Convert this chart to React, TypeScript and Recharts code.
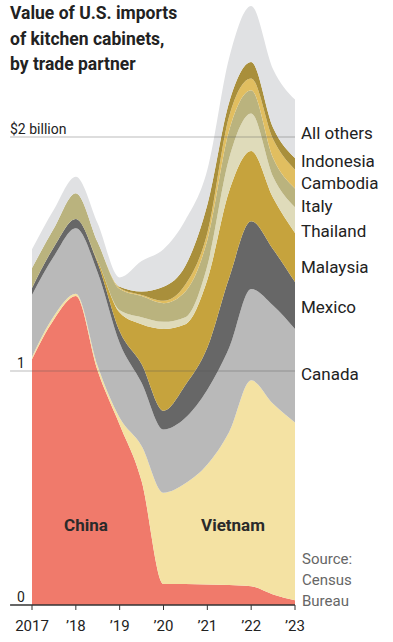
import { AreaChart, Area, XAxis, YAxis, ReferenceLine } from "recharts";

// half-year points, values in $ billions
const periods = [2017, 2017.5, 2018, 2018.5, 2019, 2019.5, 2020, 2020.5, 2021, 2021.5, 2022, 2022.5, 2023];
const china = [1.05, 1.22, 1.32, 1.0, 0.77, 0.53, 0.09, 0.09, 0.088, 0.085, 0.08, 0.045, 0.02];
const vietnam = [0.01, 0.015, 0.01, 0.02, 0.03, 0.15, 0.39, 0.43, 0.512, 0.655, 0.88, 0.815, 0.76];
const canada = [0.265, 0.255, 0.28, 0.4, 0.32, 0.27, 0.27, 0.28, 0.32, 0.36, 0.39, 0.42, 0.4];
const mexico = [0.03, 0.04, 0.04, 0.04, 0.05, 0.08, 0.08, 0.14, 0.18, 0.3, 0.29, 0.24, 0.2];
const malaysia = [0, 0, 0, 0.01, 0.08, 0.17, 0.35, 0.26, 0.29, 0.37, 0.3, 0.22, 0.21];
const thailand = [0, 0, 0, 0, 0.01, 0.03, 0.03, 0.03, 0.06, 0.14, 0.16, 0.09, 0.11];
const italy = [0.085, 0.08, 0.11, 0.08, 0.09, 0.09, 0.08, 0.11, 0.11, 0.12, 0.1, 0.08, 0.08];
const cambodia = [0, 0, 0, 0, 0.005, 0.005, 0.01, 0.03, 0.03, 0.06, 0.05, 0.08, 0.08];
const indonesia = [0, 0, 0, 0, 0.005, 0.015, 0.06, 0.08, 0.12, 0.06, 0.07, 0.05, 0.05];
const allOthers = [0.08, 0.08, 0.07, 0.08, 0.04, 0.13, 0.16, 0.195, 0.15, 0.19, 0.24, 0.25, 0.25];

const yearTicks = [2017, 2018, 2019, 2020, 2021, 2022, 2023];
const valueTicks = [0, 1, 2];

const series = [
  { key: "china", name: "China", values: china, color: "#f07a6b" },
  { key: "vietnam", name: "Vietnam", values: vietnam, color: "#f4e2a3" },
  { key: "canada", name: "Canada", values: canada, color: "#b9b9b9" },
  { key: "mexico", name: "Mexico", values: mexico, color: "#676767" },
  { key: "malaysia", name: "Malaysia", values: malaysia, color: "#c6a33d" },
  { key: "thailand", name: "Thailand", values: thailand, color: "#dfdbba" },
  { key: "italy", name: "Italy", values: italy, color: "#bab37e" },
  { key: "cambodia", name: "Cambodia", values: cambodia, color: "#e1be60" },
  { key: "indonesia", name: "Indonesia", values: indonesia, color: "#a98f3b" },
  { key: "allOthers", name: "All others", values: allOthers, color: "#e0e1e3" },
];

const data = periods.map((t, i) => {
  const row: Record<string, number> = { t };
  series.forEach((s) => (row[s.key] = s.values[i]));
  return row;
});

// label placement on the right (pixel y of text centre)
const rightLabels = [
  { text: "All others", y: 133 },
  { text: "Indonesia", y: 161 },
  { text: "Cambodia", y: 183 },
  { text: "Italy", y: 206 },
  { text: "Thailand", y: 231 },
  { text: "Malaysia", y: 267 },
  { text: "Mexico", y: 307 },
  { text: "Canada", y: 374 },
];

const font = "Roboto, 'Liberation Sans', sans-serif";

const yearLabel = (v: number) => (v === 2017 ? "2017" : "\u2019" + String(v).slice(2));

const ValueTick = (props: any) => {
  const { y, payload } = props;
  const v = payload.value;
  return (
    <text x={v === 2 ? 10 : 17} y={y - 3} fontSize={14} fill="#222" fontFamily={font}>
      {v === 2 ? "$2 billion" : v}
    </text>
  );
};

export default function App() {
  return (
    <div style={{ position: "fixed", left: 0, top: 0, width: 393, height: 642, background: "#fff", fontFamily: font }}>
      <AreaChart
        width={393}
        height={642}
        data={data}
        margin={{ top: 1.28, right: 98, bottom: 7, left: 10 }}
      >
        <XAxis
          dataKey="t"
          type="number"
          domain={[2017, 2023]}
          ticks={yearTicks}
          interval={0}
          tickFormatter={yearLabel}
          axisLine={false}
          tickLine={{ stroke: "#333" }}
          tickSize={5}
          tickMargin={10}
          height={30}
          tick={{ fontSize: 15, fill: "#222", fontFamily: font }}
        />
        <YAxis
          type="number"
          domain={[0, 2.58]}
          allowDataOverflow
          ticks={valueTicks}
          width={22}
          axisLine={false}
          tickLine={false}
          tick={<ValueTick />}
        />
        {series.map((s) => (
          <Area
            key={s.key}
            dataKey={s.key}
            stackId="1"
            type="monotone"
            stroke="none"
            fill={s.color}
            fillOpacity={1}
            isAnimationActive={false}
          />
        ))}
        {[1, 2].map((v) => (
          <ReferenceLine
            key={v}
            segment={[{ x: 2016.5, y: v }, { x: 2023, y: v }]}
            ifOverflow="visible"
            stroke="#555"
            strokeOpacity={0.4}
            strokeWidth={1}
          />
        ))}
        <ReferenceLine
          segment={[{ x: 2016.5, y: 0 }, { x: 2023, y: 0 }]}
          ifOverflow="visible"
          stroke="#333"
          strokeWidth={1.3}
        />
      </AreaChart>
      <div
        style={{
          position: "absolute",
          left: 10,
          top: 1,
          fontSize: 17.5,
          fontWeight: 700,
          lineHeight: "25.5px",
          color: "#222",
        }}
      >
        Value of U.S. imports
        <br />
        of kitchen cabinets,
        <br />
        by trade partner
      </div>
      <svg width={393} height={642} style={{ position: "absolute", left: 0, top: 0, pointerEvents: "none" }}>
        {rightLabels.map((l) => (
          <text key={l.text} x={301} y={l.y} dominantBaseline="central" fontSize={17} fill="#222" fontFamily={font}>
            {l.text}
          </text>
        ))}
        <text x={86} y={525} textAnchor="middle" dominantBaseline="central" fontSize={17} fontWeight={700} fill="#2a2a2a" fontFamily={font}>
          China
        </text>
        <text x={233} y={525} textAnchor="middle" dominantBaseline="central" fontSize={17} fontWeight={700} fill="#2a2a2a" fontFamily={font}>
          Vietnam
        </text>
        {["Source:", "Census", "Bureau"].map((t, i) => (
          <text key={t} x={302} y={559 + i * 21} dominantBaseline="central" fontSize={15} fill="#666" fontFamily={font}>
            {t}
          </text>
        ))}
      </svg>
    </div>
  );
}
